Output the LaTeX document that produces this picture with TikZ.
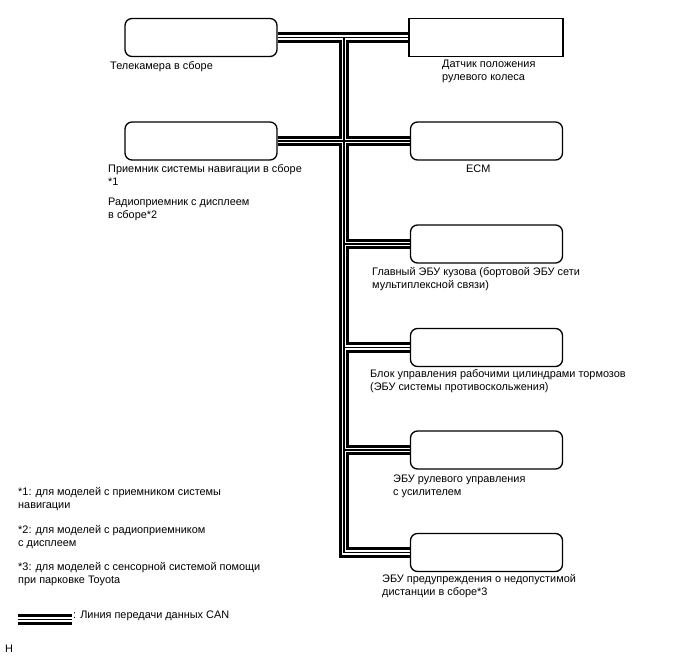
\documentclass[tikz,border=0pt]{standalone}
\usepackage{fontspec}
\setmainfont{Liberation Sans}
\usetikzlibrary{backgrounds}
\tikzset{
  ecu/.style={draw, line width=1.3pt, rounded corners=7pt, minimum width=152pt,
              minimum height=38pt, inner sep=0pt},
  sensorbox/.style={ecu, rounded corners=0pt, minimum width=154pt},
  lbl/.style={anchor=base west, align=left, inner sep=0pt,
              font=\fontsize{10.9}{13}\selectfont},
}
\begin{document}
\begin{tikzpicture}[x=1pt,y=-1pt]
    \useasboundingbox (0,0) rectangle (688,658);
    % blocks on the bus
    \node[ecu] (cam) at (201,37.5) {};
    \node[ecu] (nav) at (201,141) {};
    \node[sensorbox] (sensor) at (486,37.5) {};
    \node[ecu] (ecm) at (486.5,141) {};
    \node[ecu] (body) at (486.5,244) {};
    \node[ecu] (brake) at (486.5,347.5) {};
    \node[ecu] (eps) at (486.5,450) {};
    \node[ecu] (warn) at (486.5,552.5) {};
    \coordinate (jtop) at (344,37.5);
    \coordinate (jbot) at (344,552.5);
    \coordinate (lgA) at (18,619.5);
    \coordinate (lgB) at (72,619.5);
    % labels (base = last line)
    \node[lbl] (camt) at (110,70) {Телекамера в сборе};
    \node[lbl] (navt) at (108,185) {Приемник системы навигации в сборе\\*1};
    \node[lbl] (radt) at (108,218) {Радиоприемник с дисплеем\\в сборе*2};
    \node[lbl] (sensort) at (442,81) {Датчик положения\\рулевого колеса};
    \node[lbl] (ecmt) at (466,172) {ECM};
    \node[lbl] (bodyt) at (372,288) {Главный ЭБУ кузова (бортовой ЭБУ сети\\мультиплексной связи)};
    \node[lbl] (braket) at (370,390) {Блок управления рабочими цилиндрами тормозов\\(ЭБУ системы противоскольжения)};
    \node[lbl] (epst) at (393,495) {ЭБУ рулевого управления\\с усилителем};
    \node[lbl] (warnt) at (382,595) {ЭБУ предупреждения о недопустимой\\дистанции в сборе*3};
    \node[lbl] (fn1) at (18,508) {*1: для моделей с приемником системы\\навигации};
    \node[lbl] (fn2) at (18,546) {*2: для моделей с радиоприемником\\с дисплеем};
    \node[lbl] (fn3) at (18,583) {*3: для моделей с сенсорной системой помощи\\при парковке Toyota};
    \node[lbl] (lgt) at (73,618) {: Линия передачи данных CAN};
    \node[lbl] (code) at (5,652) {H};
    % CAN bus: outer wires, gap, centre wire
    \begin{pgfonlayer}{background}
    \foreach \w/\c in {10.5pt/black, 4.8pt/white, 1.2pt/black} {
        \draw[line width=\w, \c] (cam.east) -- (sensor.west);
        \draw[line width=\w, \c] (nav.east) -- (ecm.west);
        \draw[line width=\w, \c] (jtop) -- (jbot) -- (warn.west);
        \draw[line width=\w, \c] (body.west) -- (body.west -| jtop);
        \draw[line width=\w, \c] (brake.west) -- (brake.west -| jtop);
        \draw[line width=\w, \c] (eps.west) -- (eps.west -| jtop);
        \draw[line width=\w, \c] (lgA) -- (lgB);
    }
    \end{pgfonlayer}
\end{tikzpicture}
\end{document}
